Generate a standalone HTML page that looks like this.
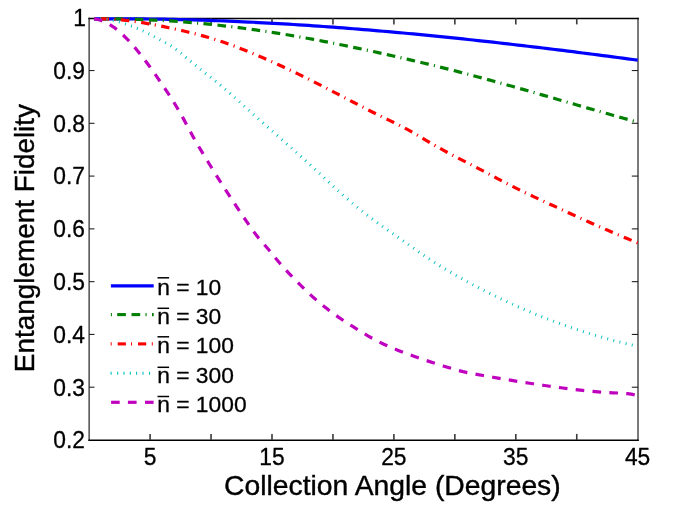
<!DOCTYPE html>
<html>
<head>
<meta charset="utf-8">
<title>Entanglement Fidelity vs Collection Angle</title>
<style>
html, body { margin: 0; padding: 0; background: #fff; }
body { width: 692px; height: 510px; overflow: hidden; font-family: "Liberation Sans", sans-serif; }
svg { display: block; will-change: transform; }
</style>
</head>
<body>
<svg width="692" height="510" viewBox="0 0 692 510">
<rect x="0" y="0" width="692" height="510" fill="#fff"/>
<g stroke="#000" fill="none">
<line x1="89.1" y1="17.8" x2="89.1" y2="440.9" stroke-width="1.05" stroke="#000"/>
<line x1="638.0" y1="17.8" x2="638.0" y2="440.9" stroke-width="1.05" stroke="#000"/>
<line x1="88.40" y1="18.5" x2="638.80" y2="18.5" stroke-width="1.45"/>
<line x1="88.40" y1="440.3" x2="638.80" y2="440.3" stroke-width="1.4"/>
<line x1="150.10" y1="440.0" x2="150.10" y2="433.9" stroke-width="1.6" stroke="#3a3a3a"/>
<line x1="150.10" y1="18.3" x2="150.10" y2="24.4" stroke-width="1.6" stroke="#3a3a3a"/>
<line x1="211.05" y1="440.0" x2="211.05" y2="433.9" stroke-width="1.6" stroke="#3a3a3a"/>
<line x1="211.05" y1="18.3" x2="211.05" y2="24.4" stroke-width="1.6" stroke="#3a3a3a"/>
<line x1="272.00" y1="440.0" x2="272.00" y2="433.9" stroke-width="1.6" stroke="#3a3a3a"/>
<line x1="272.00" y1="18.3" x2="272.00" y2="24.4" stroke-width="1.6" stroke="#3a3a3a"/>
<line x1="332.95" y1="440.0" x2="332.95" y2="433.9" stroke-width="1.6" stroke="#3a3a3a"/>
<line x1="332.95" y1="18.3" x2="332.95" y2="24.4" stroke-width="1.6" stroke="#3a3a3a"/>
<line x1="393.90" y1="440.0" x2="393.90" y2="433.9" stroke-width="1.6" stroke="#3a3a3a"/>
<line x1="393.90" y1="18.3" x2="393.90" y2="24.4" stroke-width="1.6" stroke="#3a3a3a"/>
<line x1="454.85" y1="440.0" x2="454.85" y2="433.9" stroke-width="1.6" stroke="#3a3a3a"/>
<line x1="454.85" y1="18.3" x2="454.85" y2="24.4" stroke-width="1.6" stroke="#3a3a3a"/>
<line x1="515.80" y1="440.0" x2="515.80" y2="433.9" stroke-width="1.6" stroke="#3a3a3a"/>
<line x1="515.80" y1="18.3" x2="515.80" y2="24.4" stroke-width="1.6" stroke="#3a3a3a"/>
<line x1="576.75" y1="440.0" x2="576.75" y2="433.9" stroke-width="1.6" stroke="#3a3a3a"/>
<line x1="576.75" y1="18.3" x2="576.75" y2="24.4" stroke-width="1.6" stroke="#3a3a3a"/>
<line x1="89.1" y1="387.21" x2="94.5" y2="387.21" stroke-width="1.1" stroke="#222"/>
<line x1="638.1" y1="387.21" x2="631.8000000000001" y2="387.21" stroke-width="1.1" stroke="#222"/>
<line x1="89.1" y1="334.43" x2="94.5" y2="334.43" stroke-width="1.1" stroke="#222"/>
<line x1="638.1" y1="334.43" x2="631.8000000000001" y2="334.43" stroke-width="1.1" stroke="#222"/>
<line x1="89.1" y1="281.65" x2="94.5" y2="281.65" stroke-width="1.1" stroke="#222"/>
<line x1="638.1" y1="281.65" x2="631.8000000000001" y2="281.65" stroke-width="1.1" stroke="#222"/>
<line x1="89.1" y1="228.87" x2="94.5" y2="228.87" stroke-width="1.1" stroke="#222"/>
<line x1="638.1" y1="228.87" x2="631.8000000000001" y2="228.87" stroke-width="1.1" stroke="#222"/>
<line x1="89.1" y1="176.09" x2="94.5" y2="176.09" stroke-width="1.1" stroke="#222"/>
<line x1="638.1" y1="176.09" x2="631.8000000000001" y2="176.09" stroke-width="1.1" stroke="#222"/>
<line x1="89.1" y1="123.31" x2="94.5" y2="123.31" stroke-width="1.1" stroke="#222"/>
<line x1="638.1" y1="123.31" x2="631.8000000000001" y2="123.31" stroke-width="1.1" stroke="#222"/>
<line x1="89.1" y1="70.53" x2="94.5" y2="70.53" stroke-width="1.1" stroke="#222"/>
<line x1="638.1" y1="70.53" x2="631.8000000000001" y2="70.53" stroke-width="1.1" stroke="#222"/>
</g>
<g fill="none" stroke-linejoin="round">
<path d="M94.0,18.90 L99.0,18.90 L104.0,18.90 L109.0,18.90 L114.0,18.90 L118.9,18.90 L123.9,18.90 L128.9,18.90 L133.9,18.90 L138.9,18.90 L143.9,18.93 L148.9,18.99 L153.9,19.05 L158.8,19.13 L163.8,19.21 L168.8,19.31 L173.8,19.41 L178.8,19.53 L183.8,19.65 L188.8,19.78 L193.8,19.92 L198.7,20.07 L203.7,20.22 L208.7,20.39 L213.7,20.57 L218.7,20.75 L223.7,20.94 L228.7,21.14 L233.7,21.35 L238.7,21.57 L243.6,21.80 L248.6,22.03 L253.6,22.27 L258.6,22.53 L263.6,22.78 L268.6,23.05 L273.6,23.32 L278.6,23.61 L283.5,23.90 L288.5,24.20 L293.5,24.50 L298.5,24.81 L303.5,25.13 L308.5,25.46 L313.5,25.80 L318.5,26.14 L323.5,26.49 L328.4,26.85 L333.4,27.21 L338.4,27.58 L343.4,27.96 L348.4,28.35 L353.4,28.74 L358.4,29.14 L363.4,29.54 L368.3,29.95 L373.3,30.37 L378.3,30.80 L383.3,31.23 L388.3,31.67 L393.3,32.11 L398.3,32.56 L403.3,33.02 L408.2,33.48 L413.2,33.95 L418.2,34.42 L423.2,34.90 L428.2,35.39 L433.2,35.88 L438.2,36.38 L443.2,36.88 L448.2,37.39 L453.1,37.90 L458.1,38.42 L463.1,38.95 L468.1,39.48 L473.1,40.01 L478.1,40.55 L483.1,41.10 L488.1,41.65 L493.0,42.20 L498.0,42.76 L503.0,43.33 L508.0,43.90 L513.0,44.47 L518.0,45.05 L523.0,45.64 L528.0,46.23 L533.0,46.82 L537.9,47.42 L542.9,48.02 L547.9,48.62 L552.9,49.23 L557.9,49.84 L562.9,50.46 L567.9,51.08 L572.9,51.71 L577.8,52.34 L582.8,52.97 L587.8,53.61 L592.8,54.25 L597.8,54.89 L602.8,55.54 L607.8,56.19 L612.8,56.84 L617.7,57.50 L622.7,58.16 L627.7,58.82 L632.7,59.49 L637.7,60.16" stroke="#0000ff" stroke-width="3.2"/>
<path d="M94.0,18.90 L99.0,18.90 L104.0,18.90 L109.0,18.90 L114.0,18.90 L118.9,18.93 L123.9,19.01 L128.9,19.12 L133.9,19.26 L138.9,19.42 L143.9,19.60 L148.9,19.81 L153.9,20.04 L158.8,20.30 L163.8,20.58 L168.8,20.89 L173.8,21.22 L178.8,21.57 L183.8,21.95 L188.8,22.35 L193.8,22.78 L198.7,23.22 L203.7,23.69 L208.7,24.19 L213.7,24.70 L218.7,25.24 L223.7,25.80 L228.7,26.38 L233.7,26.98 L238.7,27.61 L243.6,28.26 L248.6,28.92 L253.6,29.61 L258.6,30.32 L263.6,31.05 L268.6,31.80 L273.6,32.57 L278.6,33.36 L283.5,34.17 L288.5,35.00 L293.5,35.85 L298.5,36.72 L303.5,37.61 L308.5,38.51 L313.5,39.43 L318.5,40.36 L323.5,41.31 L328.4,42.28 L333.4,43.26 L338.4,44.25 L343.4,45.26 L348.4,46.28 L353.4,47.31 L358.4,48.35 L363.4,49.41 L368.3,50.47 L373.3,51.55 L378.3,52.64 L383.3,53.74 L388.3,54.85 L393.3,55.97 L398.3,57.10 L403.3,58.25 L408.2,59.40 L413.2,60.57 L418.2,61.76 L423.2,62.95 L428.2,64.16 L433.2,65.38 L438.2,66.61 L443.2,67.86 L448.2,69.12 L453.1,70.39 L458.1,71.67 L463.1,72.97 L468.1,74.28 L473.1,75.61 L478.1,76.94 L483.1,78.29 L488.1,79.65 L493.0,81.01 L498.0,82.39 L503.0,83.78 L508.0,85.17 L513.0,86.57 L518.0,87.98 L523.0,89.40 L528.0,90.82 L533.0,92.25 L537.9,93.68 L542.9,95.12 L547.9,96.56 L552.9,98.00 L557.9,99.45 L562.9,100.89 L567.9,102.34 L572.9,103.79 L577.8,105.23 L582.8,106.68 L587.8,108.12 L592.8,109.55 L597.8,110.98 L602.8,112.41 L607.8,113.83 L612.8,115.25 L617.7,116.65 L622.7,118.05 L627.7,119.44 L632.7,120.81 L637.7,122.18" stroke="#007f00" stroke-width="3.2" stroke-dasharray="1.1 5.3 8.6 5.5 8.6 5.3"/>
<path d="M94.0,18.90 L99.0,18.90 L104.0,18.90 L109.0,19.04 L114.0,19.32 L118.9,19.71 L123.9,20.19 L128.9,20.76 L133.9,21.42 L138.9,22.15 L143.9,22.95 L148.9,23.81 L153.9,24.73 L158.8,25.69 L163.8,26.68 L168.8,27.71 L173.8,28.77 L178.8,29.87 L183.8,31.01 L188.8,32.20 L193.8,33.44 L198.7,34.74 L203.7,36.10 L208.7,37.53 L213.7,39.03 L218.7,40.60 L223.7,42.27 L228.7,44.01 L233.7,45.84 L238.7,47.75 L243.6,49.72 L248.6,51.74 L253.6,53.82 L258.6,55.94 L263.6,58.09 L268.6,60.28 L273.6,62.50 L278.6,64.76 L283.5,67.06 L288.5,69.38 L293.5,71.75 L298.5,74.15 L303.5,76.58 L308.5,79.05 L313.5,81.56 L318.5,84.09 L323.5,86.65 L328.4,89.23 L333.4,91.82 L338.4,94.43 L343.4,97.04 L348.4,99.64 L353.4,102.24 L358.4,104.83 L363.4,107.40 L368.3,109.95 L373.3,112.48 L378.3,114.97 L383.3,117.42 L388.3,119.84 L393.3,122.26 L398.3,124.72 L403.3,127.26 L408.2,129.92 L413.2,132.72 L418.2,135.62 L423.2,138.58 L428.2,141.56 L433.2,144.50 L438.2,147.36 L443.2,150.13 L448.2,152.83 L453.1,155.47 L458.1,158.06 L463.1,160.63 L468.1,163.18 L473.1,165.74 L478.1,168.30 L483.1,170.90 L488.1,173.52 L493.0,176.16 L498.0,178.81 L503.0,181.44 L508.0,184.05 L513.0,186.61 L518.0,189.13 L523.0,191.58 L528.0,193.98 L533.0,196.34 L537.9,198.67 L542.9,200.98 L547.9,203.28 L552.9,205.57 L557.9,207.86 L562.9,210.14 L567.9,212.43 L572.9,214.71 L577.8,217.00 L582.8,219.27 L587.8,221.53 L592.8,223.77 L597.8,225.99 L602.8,228.17 L607.8,230.33 L612.8,232.47 L617.7,234.59 L622.7,236.69 L627.7,238.77 L632.7,240.84 L637.7,242.89" stroke="#ff0000" stroke-width="3.2" stroke-dasharray="1.1 5.45 8.4 5.45"/>
<path d="M94.0,18.90 L99.0,18.90 L104.0,19.01 L109.0,19.64 L114.0,20.61 L118.9,21.86 L123.9,23.37 L128.9,25.10 L133.9,27.01 L138.9,29.09 L143.9,31.35 L148.9,33.81 L153.9,36.44 L158.8,39.12 L163.8,41.76 L168.8,44.49 L173.8,47.60 L178.8,51.34 L183.8,55.58 L188.8,59.86 L193.8,63.97 L198.7,67.96 L203.7,71.88 L208.7,75.79 L213.7,79.74 L218.7,83.78 L223.7,87.96 L228.7,92.24 L233.7,96.61 L238.7,101.05 L243.6,105.53 L248.6,110.03 L253.6,114.53 L258.6,119.01 L263.6,123.45 L268.6,127.86 L273.6,132.25 L278.6,136.64 L283.5,141.02 L288.5,145.42 L293.5,149.83 L298.5,154.28 L303.5,158.77 L308.5,163.31 L313.5,167.90 L318.5,172.53 L323.5,177.18 L328.4,181.81 L333.4,186.42 L338.4,190.98 L343.4,195.46 L348.4,199.85 L353.4,204.13 L358.4,208.27 L363.4,212.25 L368.3,216.10 L373.3,219.84 L378.3,223.48 L383.3,227.04 L388.3,230.54 L393.3,234.01 L398.3,237.46 L403.3,240.92 L408.2,244.40 L413.2,247.91 L418.2,251.42 L423.2,254.90 L428.2,258.30 L433.2,261.60 L438.2,264.77 L443.2,267.84 L448.2,270.82 L453.1,273.72 L458.1,276.56 L463.1,279.35 L468.1,282.09 L473.1,284.77 L478.1,287.41 L483.1,290.00 L488.1,292.53 L493.0,295.02 L498.0,297.45 L503.0,299.84 L508.0,302.17 L513.0,304.46 L518.0,306.69 L523.0,308.88 L528.0,311.02 L533.0,313.11 L537.9,315.16 L542.9,317.15 L547.9,319.10 L552.9,321.00 L557.9,322.85 L562.9,324.66 L567.9,326.42 L572.9,328.13 L577.8,329.80 L582.8,331.42 L587.8,332.99 L592.8,334.52 L597.8,336.01 L602.8,337.45 L607.8,338.84 L612.8,340.19 L617.7,341.49 L622.7,342.76 L627.7,343.97 L632.7,345.15 L637.7,346.28" stroke="#00bfbf" stroke-width="3.0" stroke-dasharray="0.95 5.377"/>
<path d="M94.0,18.90 L99.0,19.79 L104.0,21.53 L109.0,24.05 L114.0,27.31 L118.9,31.24 L123.9,35.78 L128.9,40.86 L133.9,46.44 L138.9,52.44 L143.9,58.82 L148.9,65.50 L153.9,72.43 L158.8,79.55 L163.8,86.85 L168.8,94.39 L173.8,102.26 L178.8,110.56 L183.8,119.37 L188.8,128.71 L193.8,137.93 L198.7,146.51 L203.7,154.79 L208.7,162.97 L213.7,171.06 L218.7,179.04 L223.7,186.91 L228.7,194.67 L233.7,202.30 L238.7,209.80 L243.6,217.19 L248.6,224.46 L253.6,231.58 L258.6,238.09 L263.6,243.80 L268.6,249.47 L273.6,255.63 L278.6,261.83 L283.5,267.56 L288.5,272.89 L293.5,278.09 L298.5,283.20 L303.5,288.18 L308.5,292.98 L313.5,297.56 L318.5,301.89 L323.5,305.98 L328.4,309.86 L333.4,313.55 L338.4,317.08 L343.4,320.47 L348.4,323.75 L353.4,326.94 L358.4,330.07 L363.4,333.11 L368.3,336.05 L373.3,338.86 L378.3,341.52 L383.3,343.99 L388.3,346.27 L393.3,348.40 L398.3,350.41 L403.3,352.35 L408.2,354.21 L413.2,356.02 L418.2,357.77 L423.2,359.48 L428.2,361.13 L433.2,362.76 L438.2,364.35 L443.2,365.91 L448.2,367.46 L453.1,368.96 L458.1,370.37 L463.1,371.63 L468.1,372.74 L473.1,373.73 L478.1,374.64 L483.1,375.52 L488.1,376.39 L493.0,377.26 L498.0,378.12 L503.0,378.96 L508.0,379.80 L513.0,380.62 L518.0,381.43 L523.0,382.23 L528.0,383.01 L533.0,383.78 L537.9,384.54 L542.9,385.27 L547.9,385.99 L552.9,386.69 L557.9,387.37 L562.9,388.03 L567.9,388.67 L572.9,389.28 L577.8,389.86 L582.8,390.41 L587.8,390.93 L592.8,391.40 L597.8,391.83 L602.8,392.21 L607.8,392.53 L612.8,392.80 L617.7,393.01 L622.7,393.27 L627.7,393.70 L632.7,394.45 L637.7,395.64" stroke="#bf00bf" stroke-width="3.2" stroke-dasharray="8.6 8.3"/>
</g>
<g font-family="Liberation Sans, sans-serif" font-size="22.8" fill="#000" stroke="#000" stroke-width="0.3" stroke-linejoin="round">
<text transform="translate(150.00,464.5) scale(1,1.035)" text-anchor="middle">5</text>
<text transform="translate(271.90,464.5) scale(1,1.035)" text-anchor="middle">15</text>
<text transform="translate(393.80,464.5) scale(1,1.035)" text-anchor="middle">25</text>
<text transform="translate(515.70,464.5) scale(1,1.035)" text-anchor="middle">35</text>
<text transform="translate(637.60,464.5) scale(1,1.035)" text-anchor="middle">45</text>
<text transform="translate(84.9,448.34) scale(1,1.035)" text-anchor="end">0.2</text>
<text transform="translate(84.9,395.56) scale(1,1.035)" text-anchor="end">0.3</text>
<text transform="translate(84.9,342.78) scale(1,1.035)" text-anchor="end">0.4</text>
<text transform="translate(84.9,290.00) scale(1,1.035)" text-anchor="end">0.5</text>
<text transform="translate(84.9,237.22) scale(1,1.035)" text-anchor="end">0.6</text>
<text transform="translate(84.9,184.44) scale(1,1.035)" text-anchor="end">0.7</text>
<text transform="translate(84.9,131.66) scale(1,1.035)" text-anchor="end">0.8</text>
<text transform="translate(84.9,78.88) scale(1,1.035)" text-anchor="end">0.9</text>
<text transform="translate(85.9,26.10) scale(1,1.035)" text-anchor="end">1</text>
</g>
<g fill="none">
<line x1="110.9" y1="285.9" x2="153.7" y2="285.9" stroke="#0000ff" stroke-width="3.2"/>
<line x1="110.9" y1="314.6" x2="111.9" y2="314.6" stroke="#007f00" stroke-width="3.1"/>
<line x1="117.2" y1="314.6" x2="125.9" y2="314.6" stroke="#007f00" stroke-width="3.1"/>
<line x1="131.5" y1="314.6" x2="140.2" y2="314.6" stroke="#007f00" stroke-width="3.1"/>
<line x1="145.5" y1="314.6" x2="146.6" y2="314.6" stroke="#007f00" stroke-width="3.1"/>
<line x1="152.0" y1="314.6" x2="153.7" y2="314.6" stroke="#007f00" stroke-width="3.1"/>
<line x1="110.7" y1="343.9" x2="111.7" y2="343.9" stroke="#ff0000" stroke-width="3.1"/>
<line x1="117.7" y1="343.9" x2="125.9" y2="343.9" stroke="#ff0000" stroke-width="3.1"/>
<line x1="131.0" y1="343.9" x2="132.0" y2="343.9" stroke="#ff0000" stroke-width="3.1"/>
<line x1="138.0" y1="343.9" x2="146.2" y2="343.9" stroke="#ff0000" stroke-width="3.1"/>
<line x1="151.8" y1="343.9" x2="152.8" y2="343.9" stroke="#ff0000" stroke-width="3.1"/>
<line x1="110.55" y1="373.3" x2="111.64999999999999" y2="373.3" stroke="#00bfbf" stroke-width="3.0"/>
<line x1="117.15" y1="373.3" x2="118.25" y2="373.3" stroke="#00bfbf" stroke-width="3.0"/>
<line x1="123.45" y1="373.3" x2="124.55" y2="373.3" stroke="#00bfbf" stroke-width="3.0"/>
<line x1="129.75" y1="373.3" x2="130.85000000000002" y2="373.3" stroke="#00bfbf" stroke-width="3.0"/>
<line x1="136.04999999999998" y1="373.3" x2="137.15" y2="373.3" stroke="#00bfbf" stroke-width="3.0"/>
<line x1="142.45" y1="373.3" x2="143.55" y2="373.3" stroke="#00bfbf" stroke-width="3.0"/>
<line x1="148.95" y1="373.3" x2="150.05" y2="373.3" stroke="#00bfbf" stroke-width="3.0"/>
<line x1="111.1" y1="402.3" x2="119.7" y2="402.3" stroke="#bf00bf" stroke-width="3.2"/>
<line x1="127.9" y1="402.3" x2="136.6" y2="402.3" stroke="#bf00bf" stroke-width="3.2"/>
<line x1="145.0" y1="402.3" x2="153.6" y2="402.3" stroke="#bf00bf" stroke-width="3.2"/>
</g>
<g font-family="Liberation Sans, sans-serif" font-size="22.8" fill="#000" stroke="#000" stroke-width="0.3" stroke-linejoin="round">
<text x="157.2" y="294.7" xml:space="preserve">n = 10</text>
<line x1="157.5" y1="277.8" x2="169.1" y2="277.8" stroke="#000" stroke-width="1.5"/>
<text x="157.2" y="323.6" xml:space="preserve">n = 30</text>
<line x1="157.5" y1="308.3" x2="169.1" y2="308.3" stroke="#000" stroke-width="1.5"/>
<text x="157.2" y="353.0" xml:space="preserve">n = 100</text>
<line x1="157.5" y1="336.8" x2="169.1" y2="336.8" stroke="#000" stroke-width="1.5"/>
<text x="157.2" y="382.6" xml:space="preserve">n = 300</text>
<line x1="157.5" y1="367.3" x2="169.1" y2="367.3" stroke="#000" stroke-width="1.5"/>
<text x="157.2" y="412.0" xml:space="preserve">n = 1000</text>
<line x1="157.5" y1="396.5" x2="169.1" y2="396.5" stroke="#000" stroke-width="1.5"/>
</g>
<g font-family="Liberation Sans, sans-serif" font-size="28.3" fill="#000" stroke="#000" stroke-width="0.4" stroke-linejoin="round">
<text x="392.4" y="494.8" text-anchor="middle">Collection Angle (Degrees)</text>
<text transform="translate(34.1,238.1) rotate(-90)" text-anchor="middle" font-size="27.9">Entanglement Fidelity</text>
</g>
</svg>
</body>
</html>
